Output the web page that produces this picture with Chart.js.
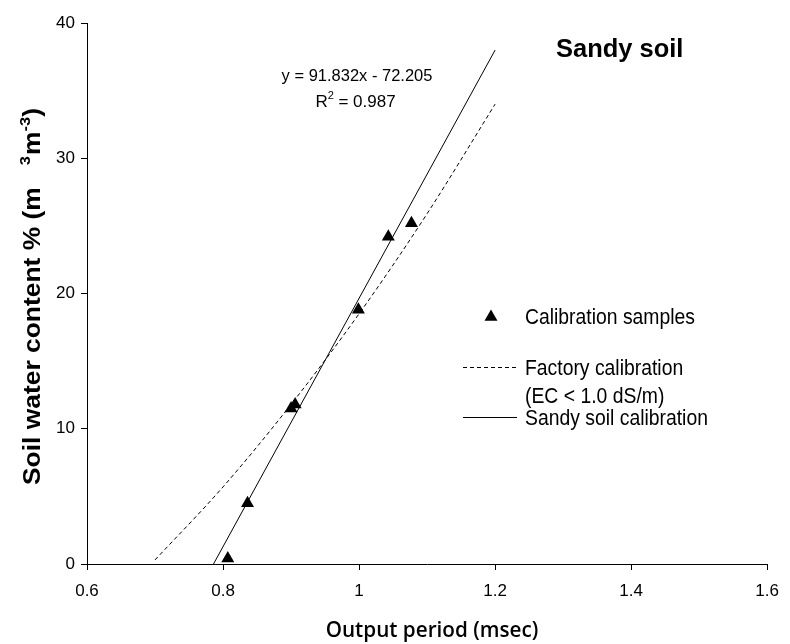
<!DOCTYPE html>
<html>
<head>
<meta charset="utf-8">
<script src="https://cdn.jsdelivr.net/npm/chart.js@4.4.1/dist/chart.umd.min.js"></script>
<style>
  html, body { margin: 0; padding: 0; background: #fff; }
  #wrap { width: 790px; height: 644px; }
</style>
</head>
<body>
<div id="wrap"><canvas id="chart" width="790" height="644"></canvas></div>
<script>
// axis ranges and tick labels
var xTicks = [0.6, 0.8, 1, 1.2, 1.4, 1.6];
var yTicks = [0, 10, 20, 30, 40];

// calibration samples
var sampleX = [0.807, 0.836, 0.900, 0.906, 0.999, 1.043, 1.077];
var sampleY = [0.4, 4.5, 11.5, 11.8, 18.8, 24.2, 25.2];

// factory calibration (dashed curve)
var factoryX = [0.70, 0.80, 0.90, 1.00, 1.10, 1.20];
var factoryY = [0.3, 5.7, 11.8, 18.5, 25.9, 34.0];

// sandy soil calibration (fitted line)
var sandyX = [0.786, 1.2];
var sandyY = [0.0, 38.0];

var SANS = '"Liberation Sans", Arial, sans-serif';
var NARROW = '"Liberation Sans Narrow", "Liberation Sans", Arial, sans-serif';

function pairs(xs, ys) {
    return xs.map(function (x, i) { return {x: x, y: ys[i]}; });
}

/**
 * Draw text, optionally squeezed horizontally
 */
function text(ctx, str, x, y, font, align, sx) {
    ctx.save();
    ctx.font = font;
    ctx.textAlign = align || 'left';
    ctx.textBaseline = 'alphabetic';
    ctx.translate(x, y);
    ctx.scale(sx || 1, 1);
    ctx.fillText(str, 0, 0);
    ctx.restore();
}

function triangle(ctx, x, y, r) {
    ctx.beginPath();
    ctx.moveTo(x, y - r);
    ctx.lineTo(x + r * Math.sin(Math.PI / 3), y + r / 2);
    ctx.lineTo(x - r * Math.sin(Math.PI / 3), y + r / 2);
    ctx.closePath();
    ctx.fill();
}

var annotations = {
    id: 'annotations',
    afterDraw: function (chart) {
        var ctx = chart.ctx;
        ctx.save();
        ctx.fillStyle = '#000';
        ctx.strokeStyle = '#000';

        // regression equation
        text(ctx, 'y = 91.832x - 72.205', 357, 81, '17px ' + SANS, 'center', 0.97);
        ctx.font = '17px ' + SANS;
        var w1 = ctx.measureText('R').width, w2 = ctx.measureText(' = 0.987').width;
        var sx0 = 356 - (w1 + 7 + w2) / 2;
        text(ctx, 'R', sx0, 107, '17px ' + SANS);
        text(ctx, '2', sx0 + w1, 99, '11px ' + SANS);
        text(ctx, ' = 0.987', sx0 + w1 + 6, 107, '17px ' + SANS);

        // panel title
        text(ctx, 'Sandy soil', 556, 57, 'bold 26px ' + SANS, 'left', 0.98);

        // legend
        triangle(ctx, 491, 317, 7.5);
        text(ctx, 'Calibration samples', 525, 324, '22px ' + SANS, 'left', 0.88);

        ctx.lineWidth = 1;
        ctx.setLineDash([4, 3]);
        ctx.beginPath();
        ctx.moveTo(463, 367.5);
        ctx.lineTo(517, 367.5);
        ctx.stroke();
        ctx.setLineDash([]);
        text(ctx, 'Factory calibration', 525, 375, '22px ' + SANS, 'left', 0.88);
        text(ctx, '(EC < 1.0 dS/m)', 525, 403, '22px ' + SANS, 'left', 0.88);

        ctx.beginPath();
        ctx.moveTo(463, 417.5);
        ctx.lineTo(517, 417.5);
        ctx.stroke();
        text(ctx, 'Sandy soil calibration', 525, 425, '22px ' + SANS, 'left', 0.88);

        // x axis title
        text(ctx, 'Output period (msec)', 432, 637, '600 22px "Open Sans", ' + SANS, 'center', 0.94);

        // y axis title, rotated, with superscripts
        ctx.save();
        ctx.translate(40, 485);
        ctx.rotate(-Math.PI / 2);
        var big = 'bold 24px ' + SANS, small = 'bold 15px ' + SANS;
        ctx.scale(1.1, 1);
        ctx.font = big;
        var part = 'Soil water content % (m';
        ctx.fillText(part, 0, 0);
        var px = ctx.measureText(part).width + 20;
        ctx.font = small;
        ctx.fillText('3', px, -10);
        px += ctx.measureText('3').width + 1;
        ctx.font = big;
        ctx.fillText('m', px, 0);
        px += ctx.measureText('m').width;
        ctx.font = small;
        ctx.fillText('-3', px, -10);
        px += ctx.measureText('-3').width;
        ctx.font = big;
        ctx.fillText(')', px, 0);
        ctx.restore();

        ctx.restore();
    }
};

var axisStyle = {
    border: {display: true, color: '#000', width: 1},
    grid: {display: true, drawOnChartArea: false, drawTicks: true, tickLength: 6, color: '#000', lineWidth: 1}
};

new Chart(document.getElementById('chart'), {
    type: 'scatter',
    data: {
        datasets: [
            {
                label: 'Calibration samples',
                data: pairs(sampleX, sampleY),
                pointStyle: 'triangle',
                pointRadius: 7.5,
                pointHoverRadius: 7.5,
                backgroundColor: '#000',
                borderColor: '#000',
                borderWidth: 0,
                showLine: false,
                order: 0
            },
            {
                label: 'Factory calibration',
                data: pairs(factoryX, factoryY),
                showLine: true,
                borderDash: [4, 3],
                borderColor: '#000',
                borderWidth: 1,
                pointRadius: 0,
                cubicInterpolationMode: 'monotone',
                order: 2
            },
            {
                label: 'Sandy soil calibration',
                data: pairs(sandyX, sandyY),
                showLine: true,
                borderColor: '#000',
                borderWidth: 1,
                pointRadius: 0,
                order: 1
            }
        ]
    },
    options: {
        responsive: false,
        animation: false,
        layout: {padding: {left: 0, top: 23, right: 18, bottom: 0}},
        plugins: {legend: {display: false}, tooltip: {enabled: false}},
        scales: {
            x: Object.assign({
                type: 'linear',
                min: 0.6,
                max: 1.6,
                afterBuildTicks: function (scale) {
                    scale.ticks = xTicks.map(function (v) { return {value: v}; });
                },
                afterFit: function (scale) { scale.height = 80; },
                ticks: {
                    color: '#000',
                    padding: 11,
                    font: {family: NARROW, size: 17},
                    callback: function (v) { return String(v); }
                }
            }, axisStyle),
            y: Object.assign({
                type: 'linear',
                min: 0,
                max: 40,
                afterBuildTicks: function (scale) {
                    scale.ticks = yTicks.map(function (v) { return {value: v}; });
                },
                afterFit: function (scale) { scale.width = 87; },
                ticks: {
                    color: '#000',
                    padding: 6,
                    font: {family: NARROW, size: 17},
                    callback: function (v) { return String(v); }
                }
            }, axisStyle)
        }
    },
    plugins: [annotations]
});
</script>
</body>
</html>
